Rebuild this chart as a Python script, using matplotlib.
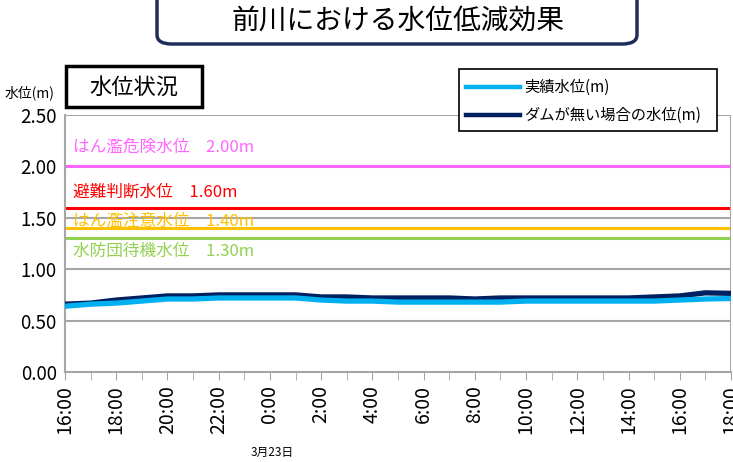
import matplotlib
matplotlib.use("Agg")
import matplotlib.pyplot as plt
from matplotlib.patches import FancyBboxPatch, Rectangle
from matplotlib.lines import Line2D

plt.rcParams['font.family'] = ['Noto Sans CJK JP', 'DejaVu Sans']

# données
heures = list(range(27))  # 16:00 -> 18:00 le lendemain, pas horaire
etiquettes = ["16:00", "18:00", "20:00", "22:00", "0:00", "2:00", "4:00",
              "6:00", "8:00", "10:00", "12:00", "14:00", "16:00", "18:00"]
niveau_reel = [0.64, 0.66, 0.67, 0.69, 0.71, 0.71, 0.72, 0.72, 0.72, 0.72,
               0.70, 0.69, 0.69, 0.68, 0.68, 0.68, 0.68, 0.68, 0.69, 0.69,
               0.69, 0.69, 0.69, 0.69, 0.70, 0.71, 0.715]
niveau_sans_barrage = [0.66, 0.67, 0.70, 0.72, 0.74, 0.74, 0.75, 0.75, 0.75, 0.75,
                       0.73, 0.73, 0.72, 0.72, 0.72, 0.72, 0.71, 0.72, 0.72, 0.72,
                       0.72, 0.72, 0.72, 0.73, 0.74, 0.77, 0.765]
seuils = [2.00, 1.60, 1.40, 1.30]
seuils_noms = ["はん濫危険水位　2.00m", "避難判断水位　1.60m", "はん濫注意水位　1.40m", "水防団待機水位　1.30m"]
seuils_couleurs = ["#FF66FF", "#FF0000", "#FFC000", "#92D050"]
seuils_texte_y = [2.10, 1.67, 1.385, 1.09]

fig = plt.figure(figsize=(7.33, 4.62), dpi=100)
ax = fig.add_axes([65/733, 90/462, 666/733, 257/462])

# grille grise
for y in [0.5, 1.0, 1.5, 2.0, 2.5]:
    ax.axhline(y, color="#A6A6A6", lw=1.5, zorder=1)

# seuils
for s, nom, c, ty in zip(seuils, seuils_noms, seuils_couleurs, seuils_texte_y):
    ax.axhline(s, color=c, lw=2.2, zorder=2)
    ax.text(0.3, ty, nom, color=c, fontsize=12, va="bottom", ha="left", zorder=3)

ax.plot(heures, niveau_reel, color="#00B0F0", lw=3.8, zorder=5, solid_capstyle="butt")
ax.plot(heures, niveau_sans_barrage, color="#002060", lw=3.8, zorder=4, solid_capstyle="butt")

ax.set_xlim(0, 26)
ax.set_ylim(0, 2.5)
ax.set_yticks([0, 0.5, 1.0, 1.5, 2.0, 2.5])
ax.set_yticklabels(["0.00", "0.50", "1.00", "1.50", "2.00", "2.50"], fontsize=13.5)
ax.set_xticks(range(0, 27, 2))
ax.set_xticklabels(etiquettes, rotation=90, fontsize=14)
ax.set_xticks(range(27), minor=True)
ax.tick_params(axis="x", which="both", length=6, color="#A6A6A6", direction="out")
ax.tick_params(axis="y", length=0, pad=6)
for sp in ["top", "right"]:
    ax.spines[sp].set_visible(False)
ax.spines["left"].set_color("#A6A6A6")
ax.spines["bottom"].set_color("#A6A6A6")
ax.spines["left"].set_linewidth(1.5)
ax.spines["bottom"].set_linewidth(1.5)
ax.axvline(26, color="#A6A6A6", lw=1.5)

# titre
titre = FancyBboxPatch((157/733, 418/462), 480/733, 60/462,
                       boxstyle="round,pad=0,rounding_size=0.02",
                       transform=fig.transFigure, fc="white", ec="#1F2D5C", lw=2.5)
fig.patches.append(titre)
fig.text(398/733, 441/462, "前川における水位低減効果", ha="center", va="center", fontsize=20)

# encadré "水位状況"
fig.patches.append(Rectangle((66/733, 355/462), 136/733, 41/462, transform=fig.transFigure,
                             fc="white", ec="black", lw=2.5))
fig.text(134/733, 375/462, "水位状況", ha="center", va="center", fontsize=16)
fig.text(5/733, 369/462, "水位(m)", ha="left", va="center", fontsize=10)
fig.text(272/733, 10/462, "3月23日", ha="center", va="center", fontsize=8.5)

# légende
fig.patches.append(Rectangle((459/733, 331/462), 258/733, 62/462, transform=fig.transFigure,
                             fc="white", ec="black", lw=1.2, zorder=10))
fig.lines.append(Line2D([466/733, 520/733], [375/462, 375/462], transform=fig.transFigure,
                        color="#00B0F0", lw=3.2, zorder=11))
fig.lines.append(Line2D([466/733, 520/733], [347/462, 347/462], transform=fig.transFigure,
                        color="#002060", lw=3.2, zorder=11))
fig.text(524/733, 375/462, "実績水位(m)", va="center", fontsize=11, zorder=12)
fig.text(524/733, 347/462, "ダムが無い場合の水位(m)", va="center", fontsize=11, zorder=12)

fig.savefig("out.png", dpi=100)
